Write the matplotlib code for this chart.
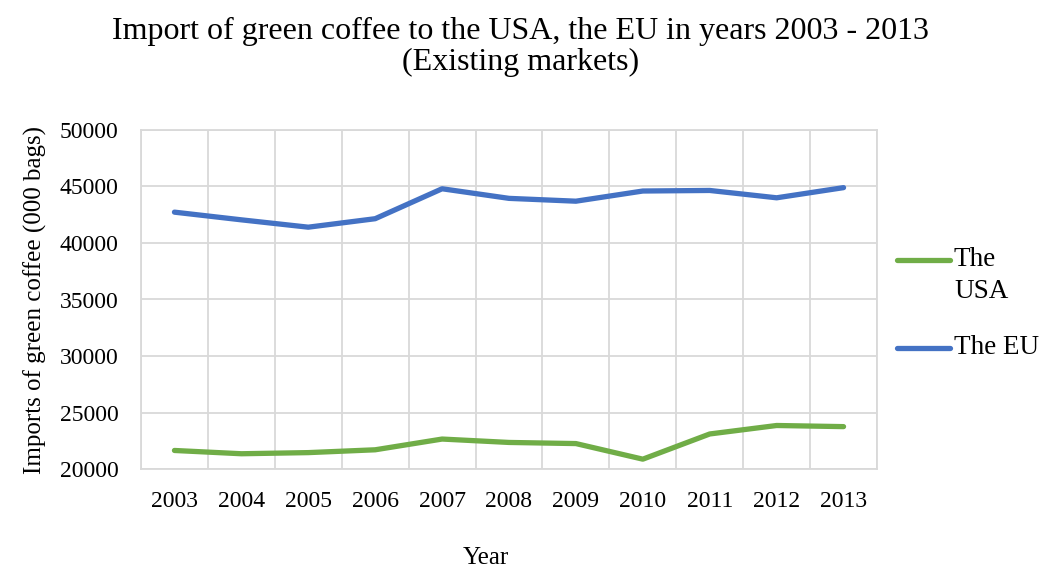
import matplotlib.pyplot as plt
from matplotlib.lines import Line2D

years = ['2003', '2004', '2005', '2006', '2007', '2008', '2009', '2010', '2011', '2012', '2013']
usa = [21640, 21350, 21450, 21700, 22650, 22350, 22250, 20870, 23100, 23850, 23750]
eu = [42730, 42050, 41400, 42150, 44800, 43950, 43700, 44600, 44650, 44000, 44900]

plt.rcParams['font.family'] = ['Liberation Serif', 'DejaVu Serif']

W, H = 1041, 569
fig = plt.figure(figsize=(W / 100, H / 100), dpi=100)
ax = fig.add_axes([141 / W, 1 - 469 / H, (877 - 141) / W, (469 - 130) / H])

green = '#70AD47'
blue = '#4472C4'
x = range(len(years))
ax.plot(x, usa, color=green, lw=3.8, solid_capstyle='round')
ax.plot(x, eu, color=blue, lw=3.8, solid_capstyle='round')

ax.set_xlim(-0.5, len(years) - 0.5)
ax.set_ylim(20000, 50000)
ax.set_yticks(range(20000, 50001, 5000))
ax.set_xticks(list(x))
ax.set_xticklabels(years)
ax.set_xticks([i - 0.5 for i in range(len(years) + 1)], minor=True)
ax.grid(True, which='major', axis='y', color='#d9d9d9', lw=1.3)
ax.grid(True, which='minor', axis='x', color='#d9d9d9', lw=1.3)
ax.tick_params(which='both', length=0, labelsize=17)
ax.tick_params(axis='x', pad=16)
ax.tick_params(axis='y', pad=16)
for s in ax.spines.values():
    s.set_color('#d9d9d9')
    s.set_linewidth(1.3)
ax.set_axisbelow(True)

ax.set_ylabel('Imports of green coffee (000 bags)', fontsize=18, labelpad=9)
fig.text(486 / W, 1 - 558 / H, 'Year', ha='center', va='center', fontsize=18)
fig.text(0.5, 1 - 47 / H, 'Import of green coffee to the USA, the EU in years 2003 - 2013\n(Existing markets)',
         ha='center', va='center', fontsize=23, linespacing=1.12)

# legend, Excel style (handle aligned with first text line)
for y_px, col, lab in [(260, green, 'The\nUSA'), (348, blue, 'The EU')]:
    yf = 1 - y_px / H
    fig.add_artist(Line2D([897 / W, 950 / W], [yf, yf], color=col, lw=3.8, solid_capstyle='round'))
    fig.text(954 / W, yf, lab.split('\n')[0], ha='left', va='center', fontsize=19.5)
    if '\n' in lab:
        fig.text(954 / W, yf - 31 / H, lab.split('\n')[1], ha='left', va='center', fontsize=19.5)

fig.savefig('out.png', dpi=100)
